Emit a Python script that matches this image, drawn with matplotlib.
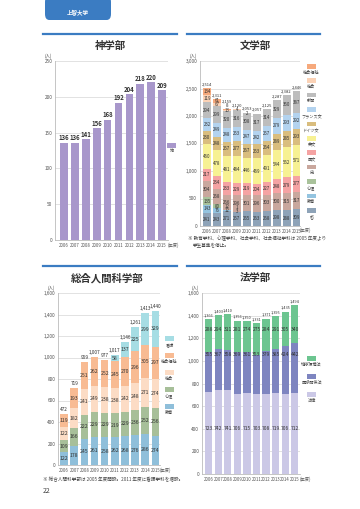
import numpy as np
import matplotlib
matplotlib.use("Agg")
import matplotlib.pyplot as plt
from matplotlib.patches import Rectangle, FancyBboxPatch

plt.rcParams['font.family'] = ['Noto Sans CJK JP', 'DejaVu Sans']

W, H = 360, 509
years = ['2006', '2007', '2008', '2009', '2010', '2011', '2012', '2013', '2014', '2015']

# 神学部
theo = [136, 136, 141, 156, 168, 192, 204, 218, 220, 209]

# 文学部 (bottom -> top)
lit_names = ['哲', '教育', '心理', '史', '国文', '英文', 'ドイツ文', 'フランス文', '新聞', '社会', '社会福祉']
lit_tetsu = [241, 243, 271, 257, 265, 263, 268, 298, 288, 309]
lit_kyoiku = [143, 76, 12, 3, 0, 0, 0, 0, 0, 0]
lit_shinri = [135, 80, 12, 1, 0, 0, 0, 0, 0, 0]
lit_shi = [304, 268, 266, 296, 301, 296, 303, 300, 315, 317]
lit_kokubun = [217, 234, 233, 229, 219, 204, 227, 248, 279, 277]
lit_eibun = [460, 478, 481, 484, 446, 469, 491, 544, 562, 571]
lit_doitsu = [230, 248, 257, 277, 267, 253, 264, 289, 285, 293]
lit_france = [232, 249, 248, 253, 247, 242, 257, 279, 293, 292]
lit_shinbun = [294, 299, 320, 316, 308, 317, 314, 329, 360, 387]
lit_shakai = [119, 67, 13, 4, 2, 0, 0, 0, 0, 0]
lit_fukushi = [134, 61, 8, 0, 0, 0, 0, 0, 0, 0]
lit_total = [2514, 2311, 2159, 2120, 2053, 2057, 2125, 2287, 2382, 2446]

# 総合人間科学部 (bottom -> top)
sog_names = ['教育', '心理', '社会', '社会福祉', '看護']
sog_kyoiku = [122, 178, 245, 261, 258, 262, 268, 276, 286, 274]
sog_shinri = [109, 166, 222, 229, 229, 219, 229, 236, 252, 256]
sog_shakai = [122, 182, 241, 249, 238, 238, 242, 248, 271, 274]
sog_fukushi = [119, 193, 251, 262, 252, 245, 270, 296, 305, 297]
sog_kango = [0, 0, 0, 0, 0, 58, 137, 225, 299, 329]
sog_total = [472, 719, 959, 1007, 977, 1017, 1146, 1261, 1413, 1440]

# 法学部 (bottom -> top)
law_names = ['法律', '国際関係法', '地球環境法']
law_houritsu = [723, 742, 741, 706, 715, 703, 708, 719, 706, 712]
law_kokusai = [355, 367, 358, 369, 361, 353, 379, 385, 424, 442]
law_chikyu = [288, 294, 311, 281, 274, 275, 284, 291, 305, 340]
law_total = [1366, 1403, 1410, 1356, 1350, 1331, 1371, 1395, 1435, 1494]

BLUE = '#3b7cc2'
TXT = '#333333'

fig = plt.figure(figsize=(W / 100, H / 100), dpi=100)
fig.patch.set_facecolor('white')


def fx(x):
    return x / W


def fy(y):
    return 1 - y / H


def px_axes(l, t, r, b):
    return fig.add_axes([l / W, 1 - b / H, (r - l) / W, (b - t) / H])


def style_axes(ax, ymax, step, xlim):
    ax.set_ylim(0, ymax)
    ax.set_xlim(*xlim)
    ticks = np.arange(0, ymax + 1, step)
    ax.set_yticks(ticks)
    ax.set_yticklabels([f'{t:,}' for t in ticks], fontsize=3.4, color='#555555')
    ax.set_xticks(range(len(years)))
    ax.set_xticklabels(years, fontsize=3.1, color='#555555')
    ax.tick_params(length=0, pad=2)
    ax.grid(axis='y', color='#dddddd', lw=0.6)
    ax.set_axisbelow(True)
    for s in ['top', 'right']:
        ax.spines[s].set_visible(False)
    ax.spines['left'].set_color('#bbbbbb')
    ax.spines['bottom'].set_color('#bbbbbb')
    ax.spines['left'].set_linewidth(0.6)
    ax.spines['bottom'].set_linewidth(0.6)
    ax.text(1.0, -0.012, '(年度)', transform=ax.transAxes, fontsize=3.1,
            color='#555555', ha='left', va='top')
    ax.text(-0.03, 1.01, '(人)', transform=ax.transAxes, fontsize=3.2,
            color='#555555', ha='right', va='bottom')


def header_line(x0, x1, y, title, tx):
    fig.add_artist(plt.Line2D([fx(x0), fx(x1)], [fy(y), fy(y)], color=BLUE, lw=1.6))
    fig.text(fx(tx), fy(y + 12), title, fontsize=7.5, fontweight='bold',
             color='#333333', ha='center', va='center')


def legend(x, y0, dy, names, colors):
    for i, (n, c) in enumerate(zip(names, colors)):
        y = y0 + i * dy
        fig.add_artist(Rectangle((fx(x), fy(y + 4.5)), 9 / W, 4.5 / H,
                                 transform=fig.transFigure, color=c, lw=0))
        fig.text(fx(x + 4.5), fy(y + 8.5), n, fontsize=3.0, color='#444444',
                 ha='center', va='center')


def stacked(ax, series, colors, totals, width, ymax, ax_h, fs=3.6, tfs=3.6,
            label_rows=None):
    x = np.arange(len(years))
    gap = ymax * 4.2 / ax_h  # min label spacing (about 4 px)
    bottom = np.zeros(len(years))
    last = np.full(len(years), -1e9)
    for k, (vals, c) in enumerate(zip(series, colors)):
        vals = np.array(vals, dtype=float)
        ax.bar(x, vals, width, bottom=bottom, color=c, lw=0)
        for i, v in enumerate(vals):
            if v > 0:
                if label_rows:
                    ly = label_rows[k]
                else:
                    ly = max(bottom[i] + v / 2, last[i] + gap)
                    last[i] = ly
                ax.text(x[i], ly, f'{int(v)}', ha='center', va='center',
                        fontsize=fs, color=TXT)
        bottom += vals
    for i, t in enumerate(totals):
        ty = max(bottom[i] + ymax * 0.012, last[i] + gap * 0.6)
        ax.text(x[i], ty, f'{t:,}', ha='center', va='bottom',
                fontsize=tfs, color=TXT)


# top tab
fig.add_artist(FancyBboxPatch((fx(45), fy(20)), 66 / W, 24 / H,
                              boxstyle='round,pad=0,rounding_size=0.012',
                              transform=fig.transFigure, color=BLUE, lw=0))
fig.text(fx(78), fy(12), '上智大学', fontsize=4, color='white', ha='center',
         va='center', fontweight='bold')

# 神学部
header_line(43, 177, 34, '神学部', 110)
ax1 = px_axes(55, 61, 168, 240)
ax1.bar(range(len(years)), theo, 0.7, color='#a897cb', lw=0)
for i, v in enumerate(theo):
    ax1.text(i, v + 2, str(v), ha='center', va='bottom', fontsize=4.3,
             color=TXT, fontweight='bold')
style_axes(ax1, 250, 50, (-0.83, 9.55))
legend(167, 143, 0, ['神'], ['#a897cb'])

# 文学部
header_line(187, 320, 34, '文学部', 255)
lit_colors = ['#8ea3b8', '#94c4e0', '#a9c29b', '#c9a79d', '#f5a3a3', '#f7f193',
              '#d9bd7e', '#b3d3ef', '#bdbdbd', '#fbd2b6', '#f6a97c']
ax2 = px_axes(200, 61, 300, 226)
stacked(ax2, [lit_tetsu, lit_kyoiku, lit_shinri, lit_shi, lit_kokubun, lit_eibun,
              lit_doitsu, lit_france, lit_shinbun, lit_shakai, lit_fukushi],
        lit_colors, lit_total, 0.8, 3000, 165, fs=3.2, tfs=3.0)
style_axes(ax2, 3000, 500, (-0.7, 9.35))
legend(307, 64, 14.4, lit_names[::-1], lit_colors[::-1])
fig.text(fx(188), fy(239), '※ 教育学科、心理学科、社会学科、社会福祉学科は 2005 年度より',
         fontsize=3.3, color='#444444', va='center')
fig.text(fx(193), fy(245), '学生募集を停止。', fontsize=3.3, color='#444444', va='center')

# 総合人間科学部
header_line(43, 177, 266, '総合人間科学部', 107)
sog_colors = ['#8fbfda', '#a7bf99', '#fcdcc5', '#f8bb93', '#a6dde4']
ax3 = px_axes(58, 293, 160, 465)
stacked(ax3, [sog_kyoiku, sog_shinri, sog_shakai, sog_fukushi, sog_kango],
        sog_colors, sog_total, 0.75, 1600, 172, fs=3.7, tfs=3.4)
style_axes(ax3, 1600, 200, (-0.6, 9.45))
legend(165, 336, 17, sog_names[::-1], sog_colors[::-1])
fig.text(fx(43), fy(480), '※ 総合人間科学部は 2005 年度開設。2011 年度に看護学科を増設。',
         fontsize=3.3, color='#444444', va='center')
fig.text(fx(43), fy(491), '22', fontsize=5, color='#444444', va='center')

# 法学部
header_line(187, 320, 266, '法学部', 255)
law_colors = ['#cbc8e6', '#7e85c0', '#6cc590']
ax4 = px_axes(202, 293, 300, 474)
stacked(ax4, [law_houritsu, law_kokusai, law_chikyu], law_colors, law_total,
        0.76, 1600, 181, fs=3.6, tfs=2.8, label_rows=[400, 1057, 1280])
style_axes(ax4, 1600, 200, (-0.7, 9.55))
legend(307, 356, 18, law_names[::-1], law_colors[::-1])

fig.savefig('out.png', dpi=100)
